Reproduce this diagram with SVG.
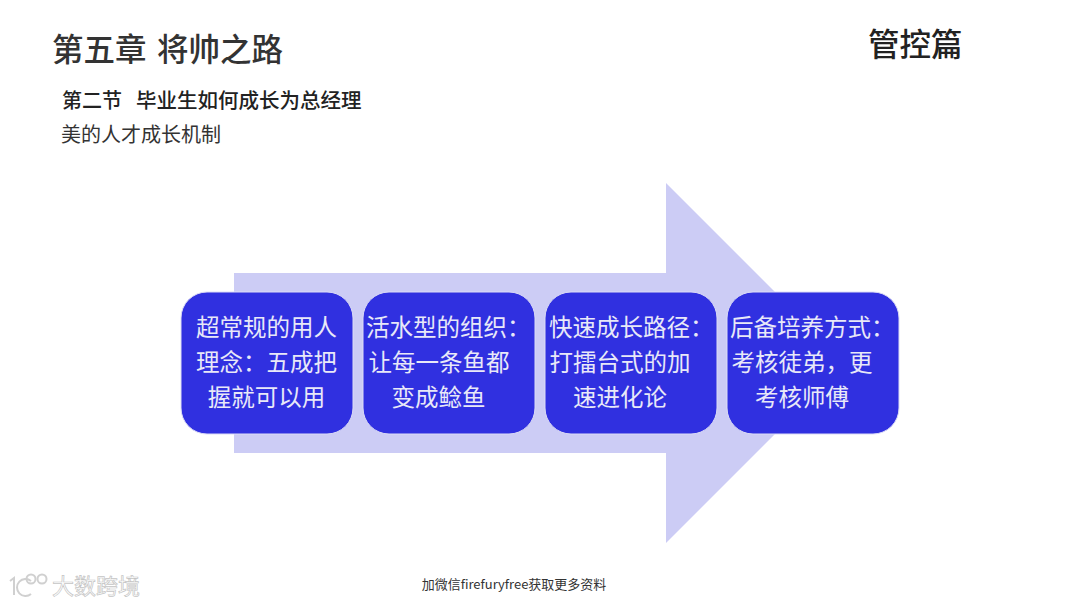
<svg xmlns="http://www.w3.org/2000/svg" width="1080" height="607" viewBox="0 0 1080 607">
<style>
text{font-family:"Noto Sans CJK SC","Liberation Sans",sans-serif}
.n{fill:#3030e0;stroke:#dcdcf6;stroke-width:1}
.t{fill:#e8e8f8;font-size:23.5px;text-anchor:middle}
.s{fill:#e8e8f8;font-size:23.5px}
.h{fill:#333}
</style>
<rect width="1080" height="607" fill="#fff"/>
<polygon id="arrow" points="234,273 666,273 666,183 846,363 666,543 666,453 234,453" fill="#ccccf5"/>
<text class="h" x="52" y="61" font-size="31.5" font-weight="500">第五章</text>
<text class="h" x="157" y="61" font-size="31.5" font-weight="500">将帅之路</text>
<text x="868" y="56" font-size="31.5" font-weight="500" fill="#222">管控篇</text>
<text x="62" y="108" font-size="20" font-weight="500" fill="#222">第二节</text>
<text x="136" y="108" font-size="20.5" font-weight="500" fill="#222">毕业生如何成长为总经理</text>
<text class="h" x="61" y="142" font-size="20">美的人才成长机制</text>
<g id="node1"><rect class="n" x="181" y="292" width="172" height="142" rx="26"/><text class="t" x="266.500" y="336">超常规的用人</text><text class="t" x="266.500" y="371">理念：五成把</text><text class="t" x="266.500" y="406">握就可以用</text></g>
<g id="node2"><rect class="n" x="363" y="292" width="172" height="142" rx="26"/><text class="s" x="366" y="336">活水型的组织：</text><text class="t" x="439" y="371">让每一条鱼都</text><text class="t" x="438.500" y="406">变成鲶鱼</text></g>
<g id="node3"><rect class="n" x="545" y="292" width="172" height="142" rx="26"/><text class="s" x="549" y="336">快速成长路径：</text><text class="t" x="620" y="371">打擂台式的加</text><text class="t" x="620" y="406">速进化论</text></g>
<g id="node4"><rect class="n" x="727" y="292" width="172" height="142" rx="26"/><text class="s" x="730" y="336">后备培养方式：</text><text class="t" x="802" y="371">考核徒弟，更</text><text class="t" x="802" y="406">考核师傅</text></g>
<g id="connectors"/>
<text x="514" y="589" font-size="13" fill="#333" text-anchor="middle">加微信firefuryfree获取更多资料</text>
<text x="52" y="594" font-size="22" fill="#fff" stroke="#c4c4c4" stroke-width=".7" textLength="88">大数跨境</text>
<g fill="none" stroke="#d0d0d0" stroke-width="2"><path d="M10 581l4-3v17M31 581a8.500 8.500 0 1 0 0 13"/><circle cx="31" cy="579" r="4.500"/><circle cx="42" cy="579" r="4.500"/></g>
</svg>
